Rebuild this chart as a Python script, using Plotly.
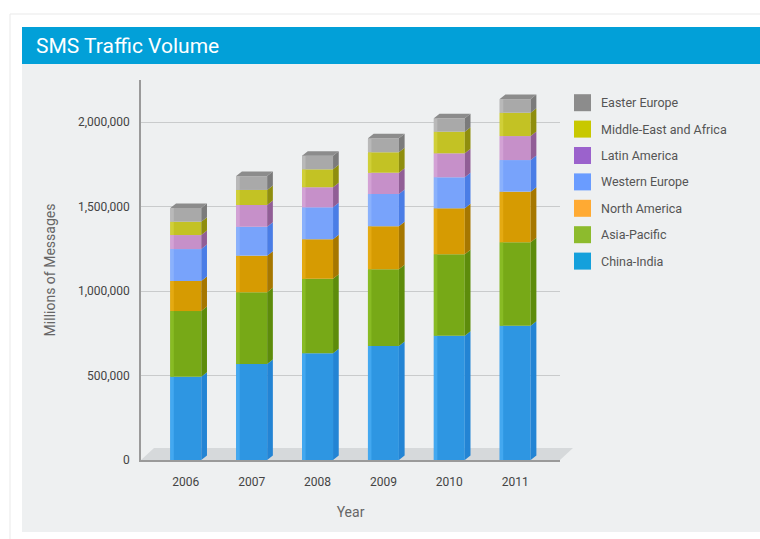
import numpy as np
import plotly.graph_objects as go

# ---- data -------------------------------------------------------------
years = ["2006", "2007", "2008", "2009", "2010", "2011"]

china_india = [493000, 568000, 632000, 675000, 736000, 795000]
asia_pacific = [389000, 425000, 441000, 454000, 482000, 494000]
north_america = [178000, 217000, 234000, 255000, 272000, 300000]
western_europe = [189000, 171000, 189000, 191000, 184000, 187000]
latin_america = [83000, 129000, 119000, 126000, 142000, 142000]
middle_east_africa = [79000, 89000, 106000, 121000, 128000, 138000]
eastern_europe = [81000, 82000, 81000, 83000, 79000, 81000]

series_names = ["China-India", "Asia-Pacific", "North America", "Western Europe",
                "Latin America", "Middle-East and Africa", "Easter Europe"]
series_values = [china_india, asia_pacific, north_america, western_europe,
                 latin_america, middle_east_africa, eastern_europe]

y_ticks = [0, 500000, 1000000, 1500000, 2000000]

# ---- styling ----------------------------------------------------------
front_colors = ["#2e96e2", "#77a917", "#d69b02", "#78a3fb", "#c690c9", "#c3c224", "#a9a9a9"]
light_colors = ["#43a8f0", "#88bb24", "#e4aa12", "#8ab1fc", "#d3a2d5", "#d0cf38", "#b9b9b9"]
side_colors = ["#2384d4", "#5d8c0b", "#a67700", "#4a7de6", "#915e96", "#8f8e0e", "#7b7b7b"]
legend_colors = ["#14a0dc", "#8dbb2d", "#ffaa33", "#6a9cff", "#9b62cc", "#c8c800", "#8c8c8c"]

W, H = 760, 539
PL, PR, PT, PB = 141, 560, 80, 460          # plot area in pixels
X_RANGE = [-0.68, 5.68]
Y_RANGE = [0, 2250000]
BAR_W = 0.47

px_per_x = (PR - PL) / (X_RANGE[1] - X_RANGE[0])
px_per_y = (PB - PT) / (Y_RANGE[1] - Y_RANGE[0])
DX = 5.7 / px_per_x          # depth of the 3d faces, in data units
DY = 4.5 / px_per_y
HL_W = 3.5 / px_per_x        # width of the lit strip on the left of each front face

FONT = "Roboto"


def paper_x(px):
    return (px - PL) / (PR - PL)


def paper_y(py):
    return (PB - py) / (PB - PT)


xs = np.arange(len(years))
vals = np.array(series_values, dtype=float)
bases = np.vstack([np.zeros(len(years)), np.cumsum(vals, axis=0)[:-1]])
tops = bases + vals

fig = go.Figure()

# front faces
for name, v, b, col in zip(series_names, vals, bases, front_colors):
    fig.add_trace(go.Bar(
        x=xs, y=v, base=b, width=BAR_W, name=name,
        marker=dict(color=col, line=dict(width=0)),
        showlegend=False, hoverinfo="skip",
    ))

# lit strip along the left edge of the front faces
for name, v, b, col in zip(series_names, vals, bases, light_colors):
    fig.add_trace(go.Bar(
        x=xs, y=v, base=b, width=HL_W, offset=-BAR_W / 2,
        marker=dict(color=col, line=dict(width=0)),
        showlegend=False, hoverinfo="skip",
    ))

# side faces (right-hand parallelograms of each segment)
for name, b, t, col in zip(series_names, bases, tops, side_colors):
    px_, py_ = [], []
    for i in range(len(years)):
        xr = xs[i] + BAR_W / 2
        px_ += [xr, xr + DX, xr + DX, xr, xr, None]
        py_ += [b[i], b[i] + DY, t[i] + DY, t[i], b[i], None]
    fig.add_trace(go.Scatter(
        x=px_, y=py_, mode="lines", fill="toself", fillcolor=col,
        line=dict(width=0, color=col), showlegend=False, hoverinfo="skip",
    ))

# top faces of the stacks
tx, ty = [], []
for i in range(len(years)):
    xl, xr, t = xs[i] - BAR_W / 2, xs[i] + BAR_W / 2, tops[-1][i]
    tx += [xl, xl + DX, xr + DX, xr, xl, None]
    ty += [t, t + DY, t + DY, t, t, None]
fig.add_trace(go.Scatter(
    x=tx, y=ty, mode="lines", fill="toself", fillcolor="#8c8c8c",
    line=dict(width=0, color="#8c8c8c"), showlegend=False, hoverinfo="skip",
))

shapes = []
# card, panel and title bar
shapes.append(dict(type="rect", xref="paper", yref="paper", layer="below",
                   x0=paper_x(10), x1=paper_x(W + 5), y0=paper_y(14), y1=paper_y(H + 5),
                   fillcolor="#ffffff", line=dict(color="#e9e9e9", width=1)))
shapes.append(dict(type="rect", xref="paper", yref="paper", layer="below",
                   x0=paper_x(22), x1=paper_x(W + 5), y0=paper_y(64), y1=paper_y(532),
                   fillcolor="#eef0f1", line=dict(width=0)))
shapes.append(dict(type="rect", xref="paper", yref="paper", layer="below",
                   x0=paper_x(22), x1=paper_x(W + 5), y0=paper_y(27), y1=paper_y(64),
                   fillcolor="#02a0d8", line=dict(width=0)))
# floor under the bars
fx, fy = 13 / (PR - PL), 12 / (PB - PT)
shapes.append(dict(type="path", xref="paper", yref="paper", layer="below",
                   path=f"M 0,0 L {fx},{fy} L {1 + fx},{fy} L 1,0 Z",
                   fillcolor="#d6d9db", line=dict(width=0)))

annotations = [dict(
    text="SMS Traffic Volume", xref="paper", yref="paper",
    x=paper_x(34), y=paper_y(46), xanchor="left", yanchor="middle",
    showarrow=False, font=dict(family=FONT, size=21, color="#ffffff"),
)]

# legend: top row is the last series
for row, k in enumerate(reversed(range(len(series_names)))):
    cy = 102.7 + 26.4 * row
    shapes.append(dict(type="rect", xref="paper", yref="paper",
                       x0=paper_x(574), x1=paper_x(591), y0=paper_y(cy - 8.5), y1=paper_y(cy + 8.5),
                       fillcolor=legend_colors[k], line=dict(width=0)))
    annotations.append(dict(
        text=series_names[k], xref="paper", yref="paper",
        x=paper_x(599), y=paper_y(cy), xanchor="left", yanchor="middle",
        showarrow=False, font=dict(family=FONT, size=12.5, color="#555555"),
    ))

fig.update_layout(
    width=W, height=H, autosize=False,
    margin=dict(l=PL, r=W - PR, t=PT, b=H - PB),
    paper_bgcolor="#ffffff", plot_bgcolor="rgba(0,0,0,0)",
    barmode="overlay", showlegend=False,
    shapes=shapes, annotations=annotations,
    font=dict(family=FONT, color="#555555"),
    xaxis=dict(
        range=X_RANGE, tickmode="array", tickvals=xs, ticktext=years,
        showgrid=False, zeroline=False, showline=True, linecolor="#9a9a9a", linewidth=1.5,
        ticks="outside", ticklen=10, tickcolor="rgba(0,0,0,0)",
        tickfont=dict(family=FONT, size=12, color="#444444"),
        title=dict(text="Year", font=dict(family=FONT, size=14, color="#666666"), standoff=19),
    ),
    yaxis=dict(
        range=Y_RANGE, tickmode="array", tickvals=y_ticks, tickformat=",",
        showgrid=True, gridcolor="#c9cbcc", gridwidth=1, zeroline=False,
        showline=True, linecolor="#9a9a9a", linewidth=1.5,
        ticks="outside", ticklen=7, tickcolor="rgba(0,0,0,0)",
        tickfont=dict(family=FONT, size=12, color="#444444"),
        title=dict(text="Millions of Messages", font=dict(family=FONT, size=14, color="#666666"),
                   standoff=19),
    ),
)

fig.write_html("out.html")
